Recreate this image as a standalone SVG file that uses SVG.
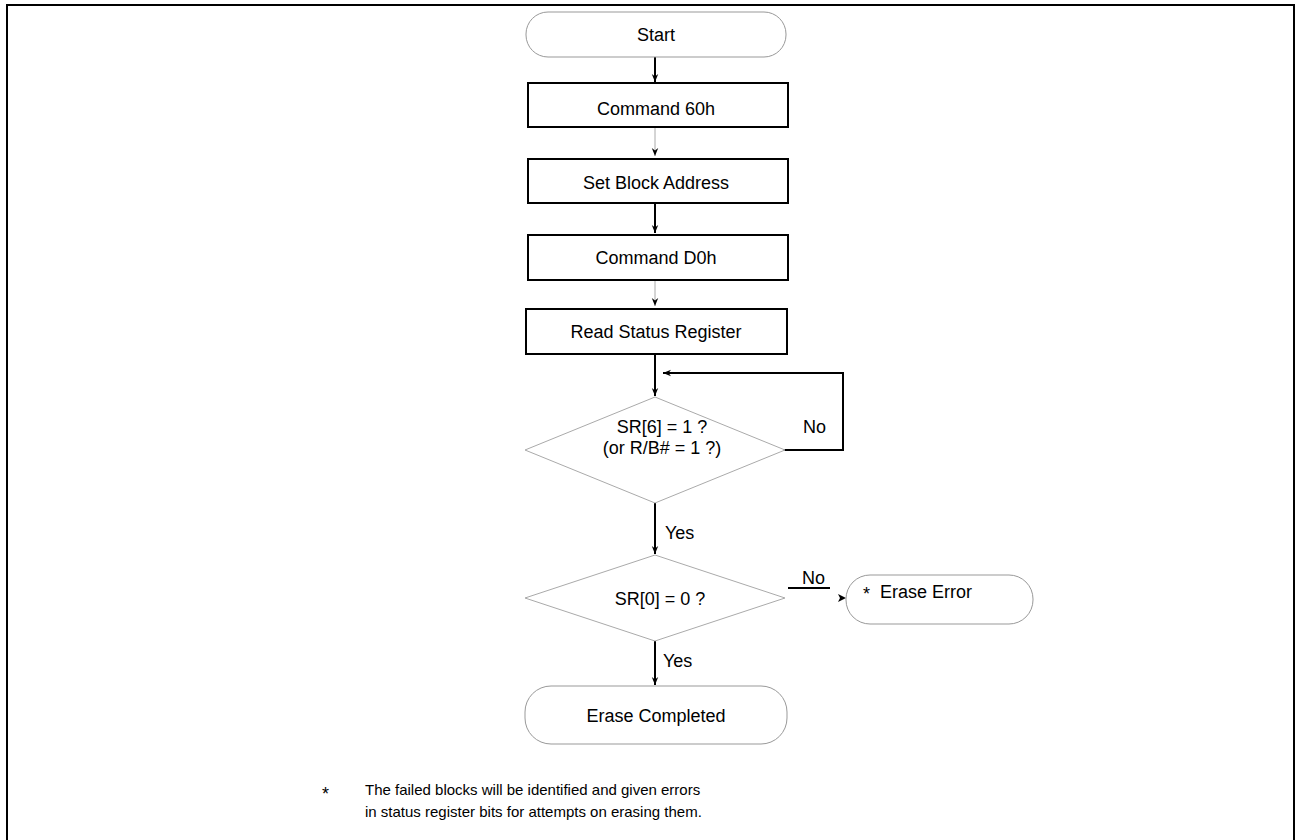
<svg xmlns="http://www.w3.org/2000/svg" width="1296" height="840" viewBox="0 0 1296 840">
<style>
text{font-family:"Liberation Sans",Arial,sans-serif;font-size:18px;fill:#000}
.term{fill:#fff;stroke:#999;stroke-width:1}
.box{fill:#fff;stroke:#000;stroke-width:2}
.dia{fill:#fff;stroke:#aaa;stroke-width:1}
.c{fill:none;stroke:#000;stroke-width:2}
.cg{fill:none;stroke:#aaa;stroke-width:1}
.m{text-anchor:middle}
.fn{font-size:15px}
</style>
<defs>
<marker id="ah" viewBox="0 0 10 10" refX="10" refY="5" markerWidth="8" markerHeight="8" markerUnits="userSpaceOnUse" orient="auto">
<path d="M0,1 L10,5 L0,9 L3,5 Z" fill="#000"/>
</marker>
</defs>
<rect x="7" y="5" width="1287" height="850" fill="#fff" stroke="#000" stroke-width="2"/>
<g id="connectors">
<line class="c" x1="655" y1="57" x2="655" y2="82" marker-end="url(#ah)"/>
<line class="cg" x1="655" y1="128" x2="655" y2="156" marker-end="url(#ah)"/>
<line class="c" x1="655" y1="203" x2="655" y2="233" marker-end="url(#ah)"/>
<line class="cg" x1="655" y1="280" x2="655" y2="306" marker-end="url(#ah)"/>
<line class="c" x1="655" y1="354" x2="655" y2="396" marker-end="url(#ah)"/>
<polyline class="c" points="783,450 843,450 843,373 663,373" marker-end="url(#ah)"/>
<line class="c" x1="655" y1="503" x2="655" y2="554" marker-end="url(#ah)"/>
<line class="c" x1="788" y1="588" x2="830" y2="588"/>
<path d="M838,594 L846,598 L838,602 L840,598 Z" fill="#000"/>
<line class="c" x1="655" y1="641" x2="655" y2="685" marker-end="url(#ah)"/>
</g>
<g id="start"><rect class="term" x="526" y="12" width="260" height="45" rx="22" ry="22"/><text class="m" x="656" y="41">Start</text></g>
<g id="cmd60"><rect class="box" x="528" y="83" width="260" height="44"/><text class="m" x="656" y="115">Command 60h</text></g>
<g id="setblock"><rect class="box" x="528" y="159" width="260" height="44"/><text class="m" x="656" y="189">Set Block Address</text></g>
<g id="cmdd0"><rect class="box" x="528" y="235" width="260" height="45"/><text class="m" x="656" y="264">Command D0h</text></g>
<g id="readsr"><rect class="box" x="526" y="309" width="261" height="45"/><text class="m" x="656" y="338">Read Status Register</text></g>
<g id="dec1"><polygon class="dia" points="655,397 785,450 655,503 525,450"/><text class="m" x="662" y="433">SR[6] = 1 ?</text><text class="m" x="662" y="454">(or R/B# = 1 ?)</text><text x="803" y="433">No</text></g>
<g id="dec2"><polygon class="dia" points="655,555 785,598 655,641 525,598"/><text class="m" x="660" y="605">SR[0] = 0 ?</text><text x="665" y="539">Yes</text></g>
<g id="erasecompleted"><rect class="term" x="525" y="686" width="262" height="58" rx="26" ry="26"/><text class="m" x="656" y="722">Erase Completed</text><text x="663" y="667">Yes</text></g>
<g id="eraseerror"><rect class="term" x="846" y="575" width="187" height="49" rx="24" ry="24"/><text x="863" y="600">*</text><text x="880" y="598">Erase Error</text><text x="802" y="584">No</text></g>
<g id="note"><text x="322" y="800">*</text><text class="fn" x="365" y="795">The failed blocks will be identified and given errors</text><text class="fn" x="365" y="817">in status register bits for attempts on erasing them.</text></g>
</svg>
